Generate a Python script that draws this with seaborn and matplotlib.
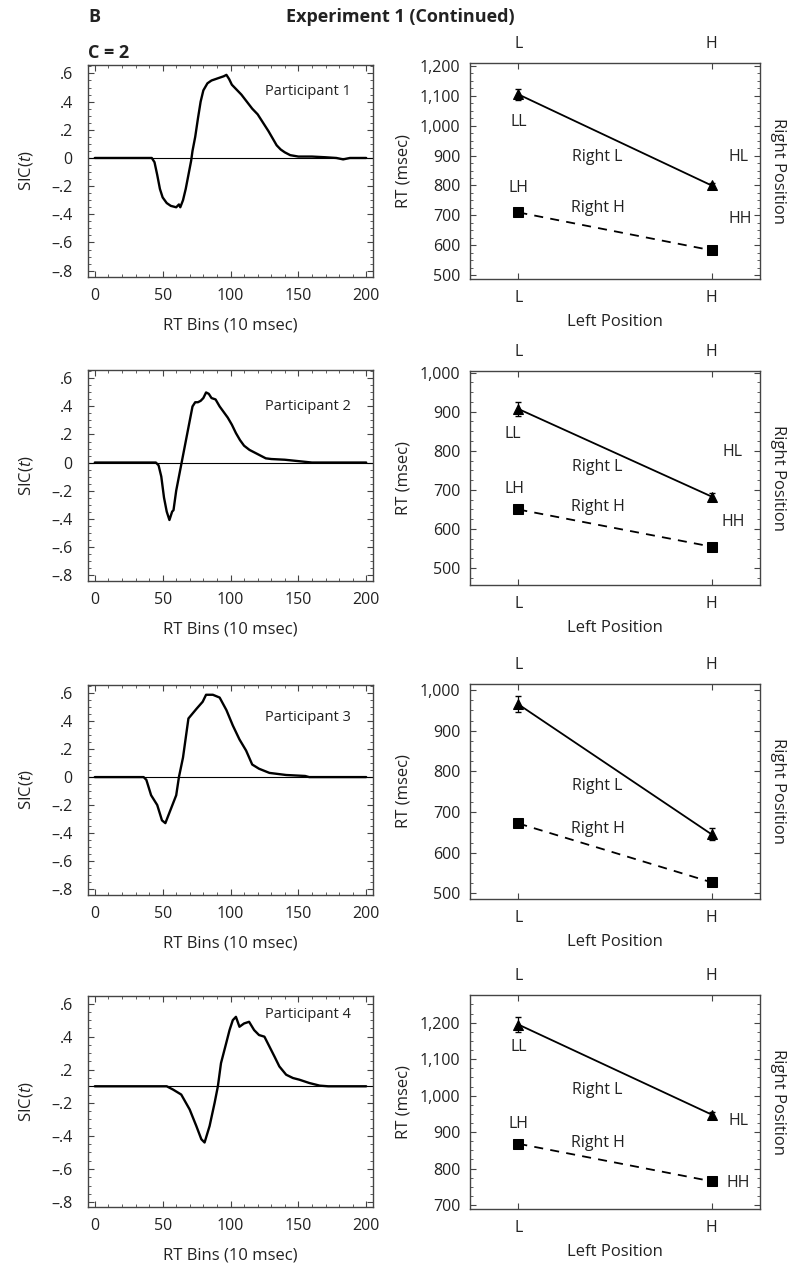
import numpy as np
import pandas as pd
import matplotlib
matplotlib.use("Agg")
import matplotlib.pyplot as plt
from matplotlib.ticker import FuncFormatter, MultipleLocator, AutoMinorLocator, FixedLocator
import seaborn as sns

# SIC(t) curves (RT bin, SIC value)
p1_x = [0, 42, 44, 46, 48, 50, 53, 56, 60, 62, 63, 65, 67, 69, 71, 72, 74, 76, 78, 80, 83, 86,
        89, 92, 95, 97, 99, 101, 104, 108, 112, 116, 120, 124, 128, 131, 134, 137, 140, 144,
        150, 160, 170, 178, 183, 188, 200]
p1_y = [0, 0, -0.03, -0.12, -0.22, -0.28, -0.32, -0.34, -0.35, -0.33, -0.35, -0.30, -0.22,
        -0.12, -0.02, 0.05, 0.15, 0.28, 0.40, 0.48, 0.53, 0.55, 0.56, 0.57, 0.58, 0.59, 0.56,
        0.52, 0.49, 0.45, 0.40, 0.35, 0.31, 0.25, 0.19, 0.14, 0.09, 0.06, 0.04, 0.02, 0.01,
        0.01, 0.005, 0.0, -0.01, 0.0, 0.0]

p2_x = [0, 45, 47, 49, 51, 53, 55, 57, 58, 60, 62, 64, 66, 68, 70, 72, 74, 76, 78, 80, 82, 84,
        86, 89, 92, 95, 98, 101, 104, 107, 110, 114, 118, 122, 126, 130, 140, 150, 160, 200]
p2_y = [0, 0, -0.02, -0.10, -0.25, -0.35, -0.41, -0.35, -0.34, -0.20, -0.10, 0.0, 0.10, 0.20,
        0.30, 0.40, 0.43, 0.43, 0.44, 0.46, 0.50, 0.49, 0.46, 0.45, 0.40, 0.36, 0.32, 0.27,
        0.21, 0.16, 0.12, 0.09, 0.07, 0.05, 0.03, 0.025, 0.02, 0.01, 0.0, 0.0]

p3_x = [0, 36, 38, 41.5, 46, 49.5, 52, 56, 60, 62, 65, 69, 75, 79.5, 82, 87, 92, 97, 101.7,
        106.6, 111.5, 116, 121, 128.7, 141, 155, 158, 200]
p3_y = [0, 0, -0.02, -0.13, -0.20, -0.31, -0.33, -0.23, -0.13, 0.0, 0.14, 0.42, 0.49, 0.54,
        0.59, 0.59, 0.57, 0.48, 0.37, 0.27, 0.19, 0.09, 0.06, 0.03, 0.015, 0.008, 0.0, 0.0]

# participant 4 is drawn on its own (shifted) scale, as in the original
p4_x = [0, 53, 57.7, 63.7, 69.9, 74.8, 78.5, 80.9, 84.6, 88.3, 90.7, 93, 96.8, 99.3, 101.7, 104,
        106.6, 110, 113.7, 117.4, 121, 125, 128.7, 132.4, 136, 141, 146, 150.7, 158, 165.7,
        172, 200]
p4_y = [0, 0, -0.02, -0.05, -0.14, -0.24, -0.32, -0.34, -0.24, -0.10, 0.0, 0.14, 0.26, 0.34,
        0.40, 0.42, 0.36, 0.38, 0.39, 0.34, 0.31, 0.30, 0.24, 0.18, 0.12, 0.07, 0.05, 0.04,
        0.02, 0.004, 0.0, 0.0]

sic_x = [p1_x, p2_x, p3_x, p4_x]
sic_y = [p1_y, p2_y, p3_y, p4_y]
participants = ["Participant 1", "Participant 2", "Participant 3", "Participant 4"]

# mean RT per condition (msec), one value per participant
left_levels = ["L", "H"]
rt_LL = [1105, 907, 965, 1195]
rt_HL = [800, 683, 645, 948]
rt_LH = [710, 650, 672, 868]
rt_HH = [583, 555, 527, 765]
err_LL = [18, 18, 20, 20]
err_HL = [8, 8, 15, 8]
err_LH = [10, 8, 8, 8]
err_HH = [10, 8, 8, 8]

# layout (pixels of the 798x1278 canvas)
W, H = 798, 1278
left_rows = [(65, 277), (370, 581), (685, 895), (996, 1207)]
right_rows = [(63, 279), (371, 585), (684, 899), (995, 1209)]
sic_ylims = [(-0.845, 0.66), (-0.845, 0.66), (-0.845, 0.66), (-0.73, 0.546)]
rt_ylims = [(487, 1210), (457, 1004), (486, 1015), (689, 1276)]
rt_yticks = [range(500, 1201, 100), range(500, 1001, 100), range(500, 1001, 100),
             range(700, 1201, 100)]
part_text_y = [0.873, 0.826, 0.843, 0.91]
cond_text = [
    {"LL": (0.0, 1013), "LH": (0.0, 792), "HL": (1.14, 896), "HH": (1.15, 687),
     "Right L": (0.41, 895), "Right H": (0.41, 725)},
    {"LL": (-0.03, 843), "LH": (-0.02, 702), "HL": (1.11, 798), "HH": (1.11, 619),
     "Right L": (0.41, 758), "Right H": (0.41, 657)},
    {"Right L": (0.41, 764), "Right H": (0.41, 658)},
    {"LL": (0.0, 1133), "LH": (0.0, 921), "HL": (1.14, 930), "HH": (1.14, 760),
     "Right L": (0.41, 1016), "Right H": (0.41, 871)},
]

sns.set_style("ticks")
plt.rcParams['font.family'] = ['Open Sans', 'DejaVu Sans']
plt.rcParams['mathtext.fontset'] = 'custom'
plt.rcParams['mathtext.rm'] = 'Open Sans'
plt.rcParams['mathtext.it'] = 'Open Sans:italic'
FS = 11.5
TXT = '#222222'
SPINE = '#444444'


def sic_label(v, pos):
    if abs(v) < 1e-9:
        return '0'
    s = f"{abs(v):.1f}".lstrip('0')
    return ('\u2013' + s) if v < 0 else s


def comma_label(v, pos):
    return f"{int(round(v)):,}"


def frac_axes(x0, x1, top, bottom):
    return [x0 / W, 1 - bottom / H, (x1 - x0) / W, (bottom - top) / H]


fig = plt.figure(figsize=(W / 100, H / 100), dpi=100)

for i in range(4):
    # ---- SIC panel
    ax = fig.add_axes(frac_axes(88, 373, *left_rows[i]))
    df = pd.DataFrame({'bin': sic_x[i], 'sic': sic_y[i]})
    ax.axhline(0, color='black', lw=0.8, zorder=1)
    sns.lineplot(data=df, x='bin', y='sic', ax=ax, color='black', lw=1.7,
                 sort=False, estimator=None, zorder=3)
    ax.set_xlim(-5, 205)
    ax.set_ylim(*sic_ylims[i])
    ax.xaxis.set_major_locator(MultipleLocator(50))
    ax.xaxis.set_minor_locator(MultipleLocator(10))
    if i < 3:
        ax.yaxis.set_major_locator(MultipleLocator(0.2))
        ax.yaxis.set_major_formatter(FuncFormatter(sic_label))
    else:
        pos4 = [0.5, 0.3, 0.1, -0.1, -0.3, -0.5, -0.7]
        ax.yaxis.set_major_locator(FixedLocator(pos4))
        ax.set_yticklabels(['.6', '.4', '.2', '\u2013.2', '\u2013.4', '\u2013.6', '\u2013.8'])
    ax.yaxis.set_minor_locator(AutoMinorLocator(4))
    ax.tick_params(which='both', direction='in', top=True, right=True, labelsize=FS,
                   colors=SPINE, labelcolor=TXT)
    ax.tick_params(which='major', length=4, width=0.8)
    ax.tick_params(which='minor', length=2, width=0.6)
    ax.tick_params(axis='x', pad=8)
    ax.tick_params(axis='y', pad=11)
    for sp in ax.spines.values():
        sp.set_color(SPINE)
        sp.set_linewidth(1.0)
    ax.set_xlabel('RT Bins (10 msec)', fontsize=FS + 0.5, labelpad=10, color=TXT)
    ax.set_ylabel('SIC($\\it{t}$)', fontsize=FS + 0.5, labelpad=12, color=TXT)
    ax.text(0.77, part_text_y[i], participants[i], transform=ax.transAxes,
            ha='center', va='center', fontsize=10.5, color=TXT)

    # ---- interaction (RT) panel
    ax2 = fig.add_axes(frac_axes(470, 760, *right_rows[i]))
    rt_df = pd.DataFrame({
        'left': [0, 1, 0, 1],
        'rt': [rt_LL[i], rt_HL[i], rt_LH[i], rt_HH[i]],
        'err': [err_LL[i], err_HL[i], err_LH[i], err_HH[i]],
        'right': ['Right L', 'Right L', 'Right H', 'Right H'],
    })
    sns.lineplot(data=rt_df, x='left', y='rt', style='right',
                 markers={'Right L': '^', 'Right H': 's'},
                 dashes={'Right L': '', 'Right H': (5, 4)}, color='black', lw=1.3,
                 markersize=6.5, markeredgecolor='black', ax=ax2, legend=False, zorder=3)
    ax2.errorbar(rt_df['left'], rt_df['rt'], yerr=rt_df['err'], fmt='none', ecolor='black',
                 elinewidth=0.9, capsize=2, zorder=4)
    ax2.set_xlim(-0.25, 1.25)
    ax2.set_ylim(*rt_ylims[i])
    ax2.set_xticks([0, 1])
    ax2.set_xticklabels(left_levels)
    ax2.set_yticks(list(rt_yticks[i]))
    ax2.yaxis.set_major_formatter(FuncFormatter(comma_label))
    ax2.yaxis.set_minor_locator(AutoMinorLocator(4))
    ax2.tick_params(which='both', direction='in', top=True, right=True, labeltop=True,
                    labelsize=FS, colors=SPINE, labelcolor=TXT)
    ax2.tick_params(which='major', length=4, width=0.8)
    ax2.tick_params(which='minor', length=2, width=0.6)
    ax2.tick_params(axis='x', which='minor', top=False, bottom=False)
    ax2.tick_params(axis='x', pad=8)
    ax2.tick_params(axis='y', pad=7)
    for sp in ax2.spines.values():
        sp.set_color(SPINE)
        sp.set_linewidth(1.0)
    ax2.set_xlabel('Left Position', fontsize=FS + 0.5, labelpad=6, color=TXT)
    ax2.set_ylabel('RT (msec)', fontsize=FS + 0.5, labelpad=6, color=TXT)
    for lab, (tx, ty) in cond_text[i].items():
        ax2.text(tx, ty, lab, ha='center', va='center', fontsize=FS, color=TXT)
    top, bot = right_rows[i]
    fig.text(778 / W, 1 - (top + bot) / 2 / H, 'Right Position', rotation=-90,
             ha='center', va='center', fontsize=FS + 0.5, color=TXT)

fig.text(88 / W, 1 - 17 / H, 'B', ha='left', va='center', fontsize=13, fontweight='bold', color=TXT)
fig.text(400 / W, 1 - 17 / H, 'Experiment 1 (Continued)', ha='center', va='center',
         fontsize=13, fontweight='bold', color=TXT)
fig.text(88 / W, 1 - 53 / H, 'C = 2', ha='left', va='center', fontsize=13, fontweight='bold',
         color=TXT)

fig.savefig('out.png', dpi=100, facecolor='white')
